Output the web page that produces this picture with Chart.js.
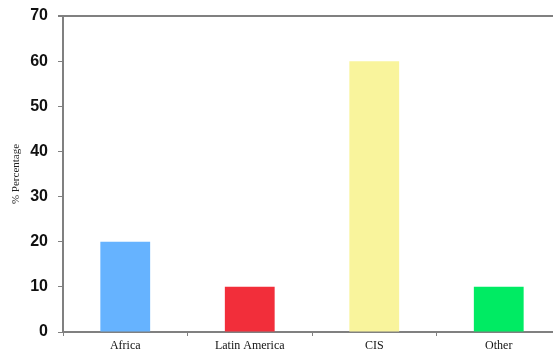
<!DOCTYPE html>
<html>
<head>
<meta charset="utf-8">
<script src="https://cdn.jsdelivr.net/npm/chart.js@4"></script>
<style>
  html, body { margin: 0; padding: 0; background: #fff; overflow: hidden; }
  #wrap { width: 570px; height: 351px; }
</style>
</head>
<body>
<div id="wrap"><canvas id="chart" width="570" height="351"></canvas></div>
<script>
const regions = ['Africa', 'Latin America', 'CIS', 'Other'];
const percentages = [20, 10, 60, 10];
const barColors = ['#66b3ff', '#f22e3a', '#f9f49c', '#00eb63'];
const yTicks = [0, 10, 20, 30, 40, 50, 60, 70];

const axisGray = '#808080';

// top frame line over the plot
const topFrame = {
  id: 'topFrame',
  afterDraw(chart) {
    const { ctx, chartArea } = chart;
    ctx.save();
    ctx.strokeStyle = axisGray;
    ctx.lineWidth = 2;
    ctx.beginPath();
    ctx.moveTo(chartArea.left - 5, chartArea.top);
    ctx.lineTo(chartArea.right, chartArea.top);
    ctx.stroke();
    ctx.restore();
  }
};

new Chart(document.querySelector('#chart'), {
  type: 'bar',
  data: {
    labels: regions,
    datasets: [{
      data: percentages,
      backgroundColor: barColors,
      borderWidth: 0,
      barPercentage: 0.4,
      categoryPercentage: 1
    }]
  },
  options: {
    responsive: false,
    animation: false,
    layout: { padding: { top: 16, right: 9, left: 0, bottom: 0 } },
    plugins: { legend: { display: false }, tooltip: { enabled: false } },
    scales: {
      x: {
        grid: { drawOnChartArea: false, drawTicks: true, tickLength: 4, color: axisGray, lineWidth: 1 },
        border: { color: axisGray, width: 2 },
        ticks: { color: '#111', padding: 3, font: { family: 'Liberation Serif', size: 12 } },
        afterFit(s) { s.height = 19; s.paddingLeft = 0; s.paddingRight = 0; }
      },
      y: {
        min: 0,
        max: 70,
        afterBuildTicks(s) { s.ticks = yTicks.map(v => ({ value: v })); },
        grid: { drawOnChartArea: false, drawTicks: true, tickLength: 5, color: axisGray, lineWidth: 1 },
        border: { color: axisGray, width: 2 },
        ticks: { color: '#111', padding: 10, font: { family: 'Liberation Sans', size: 16, weight: 'bold' } },
        title: {
          display: true,
          text: '% Percentage',
          color: '#222',
          padding: { top: 10, bottom: 0 },
          font: { family: 'Liberation Serif', size: 11 }
        },
        afterFit(s) { s.width = 63; s.paddingTop = 0; s.paddingBottom = 0; }
      }
    }
  },
  plugins: [topFrame]
});
</script>
</body>
</html>
